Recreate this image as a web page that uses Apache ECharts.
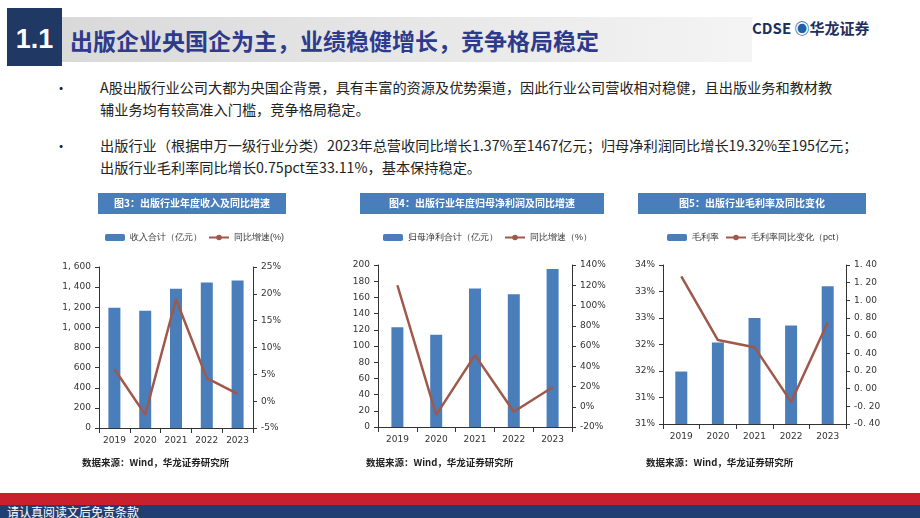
<!DOCTYPE html>
<html><head><meta charset="utf-8">
<script src="https://cdn.jsdelivr.net/npm/echarts@6/dist/echarts.min.js"></script>
<style>
body{margin:0;width:920px;height:518px;position:relative;background:#fff;font-family:"Noto Sans CJK SC",sans-serif;overflow:hidden}
.abs{position:absolute}
#c{position:absolute;left:0;top:0;width:920px;height:518px}
.bul{font-size:14.2px;color:#222;line-height:22px}
</style></head><body>
<div class="abs" style="left:62px;top:17px;width:690px;height:45px;background:linear-gradient(90deg,#d9d9d9,#f4f4f4)"></div>
<div class="abs" style="left:7px;top:8px;width:55px;height:58px;background:#1f3864;color:#fff;font:bold 27px 'Liberation Sans',Arial;line-height:62px;text-align:center">1.1</div>
<div class="abs" style="left:70px;top:22px;color:#2e3a8c;font-weight:bold;font-size:23px;line-height:36px">出版企业央国企为主，业绩稳健增长，竞争格局稳定</div>
<div class="abs" style="left:752px;top:17px;color:#1f2f5c;font:bold 15px 'Noto Sans CJK SC'">CDSE <span style="color:#1f5fa8">◉</span>华龙证券</div>
<div class="abs bul" style="left:54px;top:76px">•</div>
<div class="abs bul" style="left:100px;top:76px;width:800px">A股出版行业公司大都为央国企背景，具有丰富的资源及优势渠道，因此行业公司营收相对稳健，且出版业务和教材教<br>辅业务均有较高准入门槛，竞争格局稳定。</div>
<div class="abs bul" style="left:54px;top:134px">•</div>
<div class="abs bul" style="left:100px;top:134px;width:800px">出版行业（根据申万一级行业分类）2023年总营收同比增长1.37%至1467亿元；归母净利润同比增长19.32%至195亿元；<br>出版行业毛利率同比增长0.75pct至33.11%，基本保持稳定。</div>
<div class="abs" style="left:0;top:493px;width:920px;height:12px;background:#c8202c"></div>
<div class="abs" style="left:0;top:505px;width:920px;height:13px;background:#1f3f73;color:#fff;font-size:12px;line-height:13px;padding-left:7px">请认真阅读文后免责条款</div>
<div id="c"></div>
<script>
const years=['2019','2020','2021','2022','2023'];
const revenue=[1195,1165,1385,1445,1467];
const revenueYoY=[6.0,-2.5,19.0,4.3,1.37];
const profit=[123,114,171,164,195];
const profitYoY=[120,-8,51,-5,19.3];
const margin=[31.99,32.54,33.0,32.86,33.6];
const marginChg=[1.27,0.55,0.47,-0.15,0.75];

const BAR='#4a7ebb',LINE='#a0584a';
const ax={axisLine:{show:true,onZero:false,lineStyle:{color:'#333'}},axisTick:{show:true,inside:false,length:4,lineStyle:{color:'#333'}},splitLine:{show:false},axisLabel:{fontSize:9,color:'#333',fontFamily:'DejaVu Sans'}};
function mk(i,l,r,t,b,lmin,lmax,lint,lfmt,rmin,rmax,rint,rfmt){
 return {
  grid:{left:l,right:920-r,top:t,bottom:518-b},
  x:{type:'category',data:years,gridIndex:i,axisLine:{onZero:false,lineStyle:{color:'#333'}},axisTick:{show:true,lineStyle:{color:'#333'}},axisLabel:{fontSize:9,color:'#333',fontFamily:'DejaVu Sans'}},
  y:[Object.assign({type:'value',gridIndex:i,min:lmin,max:lmax,interval:lint},JSON.parse(JSON.stringify(ax)),{axisLabel:Object.assign({},ax.axisLabel,{formatter:lfmt})}),
     Object.assign({type:'value',gridIndex:i,position:'right',min:rmin,max:rmax,interval:rint},JSON.parse(JSON.stringify(ax)),{axisLabel:Object.assign({},ax.axisLabel,{formatter:rfmt})})]
 };
}
const g=[mk(0,99,253,267,428,0,1600,200,v=>v.toLocaleString('en-US').replace(',',', '),-5,25,5,v=>v+'%'),
         mk(1,378,572,265,427,0,200,20,v=>v,-20,140,20,v=>v+'%'),
         mk(2,663,846,265,424,31,34,0.5,v=>Math.floor(v)+'%',-0.4,1.4,0.2,v=>v.toFixed(2).replace('0.','0. ').replace('1.','1. '))];
const data=[[revenue,revenueYoY,'收入合计（亿元）','同比增速(%)'],[profit,profitYoY,'归母净利合计（亿元）','同比增速（%）'],[margin,marginChg,'毛利率','毛利率同比变化（pct）']];
const series=[];
data.forEach((d,i)=>{
 series.push({type:'bar',name:d[2],xAxisIndex:i,yAxisIndex:2*i,data:d[0],barWidth:12,itemStyle:{color:BAR}});
 series.push({type:'line',name:d[3],xAxisIndex:i,yAxisIndex:2*i+1,data:d[1],symbol:'none',lineStyle:{color:LINE,width:2.5},itemStyle:{color:LINE}});
});
const leg=[[100,'收入合计（亿元）','同比增速(%)'],[378,'归母净利合计（亿元）','同比增速（%）'],[662,'毛利率','毛利率同比变化（pct）']];
const titles=[[98,286,'图3：出版行业年度收入及同比增速'],[360,604,'图4：出版行业年度归母净利润及同比增速'],[638,866,'图5：出版行业毛利率及同比变化']];
const graphic=[];
titles.forEach(t=>{
 graphic.push({type:'rect',shape:{x:t[0],y:193,width:t[1]-t[0],height:21},style:{fill:'#4a7ebb'}});
 graphic.push({type:'text',x:(t[0]+t[1])/2,y:203.5,style:{text:t[2],fill:'#fff',font:'bold 10px "Noto Sans CJK SC"',align:'center',verticalAlign:'middle'}});
});
[82,366,646].forEach(x=>graphic.push({type:'text',x:x,y:458,style:{text:'数据来源：Wind，华龙证券研究所',fill:'#222',font:'bold 9.5px "Noto Sans CJK SC"'}}));
const chart=echarts.init(document.getElementById('c'));
chart.setOption({
 animation:false,
 grid:g.map(x=>x.grid),xAxis:g.map(x=>x.x),yAxis:g.flatMap(x=>x.y),
 legend:leg.map(l=>({left:l[0],top:228,data:[l[1],l[2]],itemWidth:20,itemHeight:7,itemGap:6,textStyle:{fontSize:9,color:'#333'}})),
 series:series,graphic:graphic
});
</script></body></html>
